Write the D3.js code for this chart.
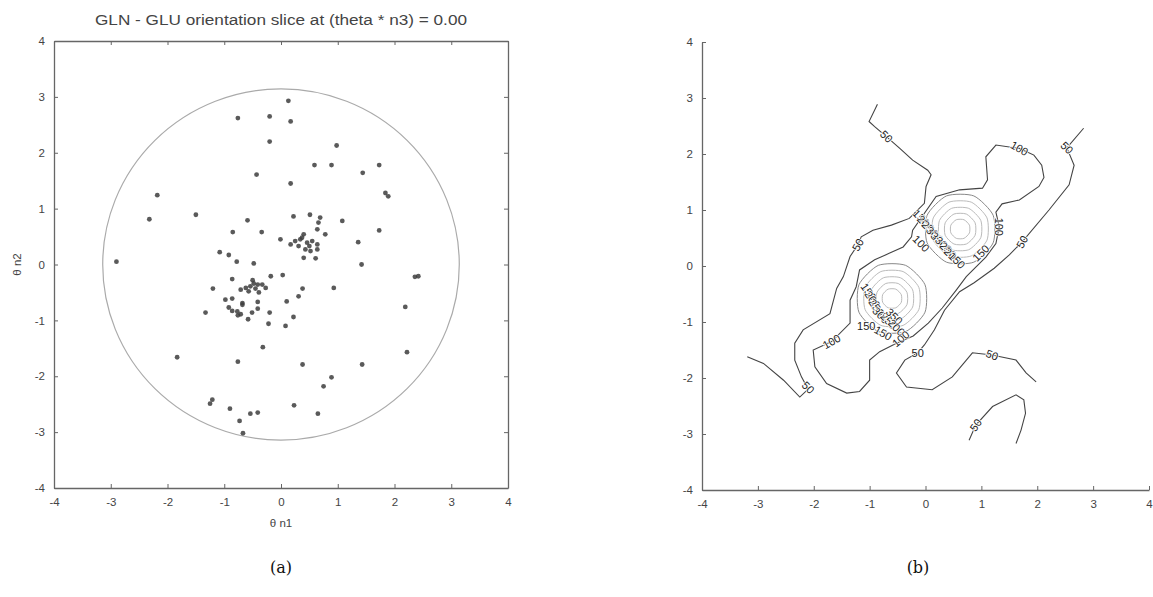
<!DOCTYPE html>
<html>
<head>
<meta charset="utf-8">
<script src="https://cdn.jsdelivr.net/npm/d3@7"></script>
<style>
  body { margin: 0; background: #fff; }
  svg { display: block; }
</style>
</head>
<body>
<div id="chart"></div>
<script>
// ---- data ----
const axisTicks = [-4, -3, -2, -1, 0, 1, 2, 3, 4];
const sliceRadius = Math.PI;

// (a) orientation samples, [theta n1, theta n2]
const orientationPoints = [
  [0.13, 2.93], [-0.76, 2.62], [-0.20, 2.65], [0.17, 2.56], [-0.20, 2.20], [0.98, 2.13],
  [0.59, 1.78], [0.89, 1.78], [1.44, 1.64], [1.73, 1.78], [-0.43, 1.61], [0.17, 1.45],
  [-2.18, 1.24], [1.84, 1.28], [1.89, 1.22],
  [-2.32, 0.81], [-1.50, 0.89], [-0.59, 0.79], [0.22, 0.86], [0.51, 0.89], [0.69, 0.84],
  [0.66, 0.75], [1.08, 0.78], [-0.85, 0.58], [-0.34, 0.58], [0.64, 0.63], [1.73, 0.61],
  [0.78, 0.54], [0.40, 0.54], [-0.01, 0.45],
  [0.25, 0.42], [0.34, 0.45], [0.46, 0.39], [0.55, 0.42], [0.64, 0.36], [0.31, 0.33],
  [0.43, 0.27], [0.52, 0.24], [0.64, 0.27], [0.17, 0.36], [0.40, 0.12], [0.61, 0.11],
  [0.37, 0.48], [0.50, 0.33],
  [1.36, 0.40], [1.42, 0.00], [-2.90, 0.05], [-1.08, 0.22], [-0.92, 0.17], [-0.78, 0.05],
  [-0.48, 0.02], [2.36, -0.22], [2.42, -0.21],
  [-0.86, -0.26], [-0.18, -0.21], [0.03, -0.19], [-1.20, -0.43],
  [-0.71, -0.45], [-0.62, -0.42], [-0.54, -0.39], [-0.48, -0.34], [-0.41, -0.36],
  [-0.33, -0.36], [-0.27, -0.42], [-0.57, -0.48], [-0.45, -0.43], [-0.50, -0.28], [-0.39, -0.50],
  [0.38, -0.43], [0.93, -0.42], [0.31, -0.57], [0.10, -0.66],
  [-0.98, -0.63], [-0.86, -0.61], [-0.68, -0.69], [-0.41, -0.67], [-0.92, -0.77], [-0.77, -0.84],
  [-0.71, -0.89], [-0.51, -0.86], [-0.41, -0.79], [-0.68, -0.72], [-0.86, -0.83], [-0.76, -0.91],
  [-1.33, -0.86], [-0.20, -0.86], [-0.58, -0.98], [-0.22, -1.06], [0.22, -0.94], [0.08, -1.10],
  [2.19, -0.76],
  [-0.32, -1.48], [-1.83, -1.66], [-0.76, -1.74], [0.38, -1.79], [1.43, -1.79], [2.22, -1.57],
  [0.89, -2.02], [0.75, -2.18],
  [-1.21, -2.42], [-1.25, -2.49], [-0.90, -2.58], [-0.54, -2.67], [-0.41, -2.65], [-0.73, -2.80],
  [-0.67, -3.02], [0.23, -2.52], [0.65, -2.67]
];

// (b) traced contour lines: level + vertices in data units
const contourLines = [
  { level: 50, points: [
    [-3.19, -1.62], [-2.90, -1.74], [-2.54, -2.04], [-2.25, -2.34], [-2.10, -2.20], [-2.22, -1.98],
    [-2.34, -1.68], [-2.34, -1.38], [-2.19, -1.14], [-1.71, -0.85], [-1.59, -0.40], [-1.47, -0.19],
    [-1.35, 0.17], [-1.21, 0.38], [-1.15, 0.52], [-0.94, 0.64], [-0.61, 0.73], [-0.29, 0.85],
    [-0.02, 1.12], [0.01, 1.42], [0.10, 1.63], [0.04, 1.71], [-0.23, 1.89], [-0.46, 2.10],
    [-0.70, 2.31], [-0.91, 2.49], [-1.01, 2.58], [-0.86, 2.89]] },
  { level: 50, points: [
    [2.83, 2.46], [2.53, 2.11], [2.66, 1.80], [2.57, 1.45], [2.21, 1.00], [1.73, 0.43],
    [1.50, 0.20], [1.23, -0.04], [0.87, -0.30], [0.61, -0.46], [0.34, -0.79], [0.16, -1.14],
    [-0.02, -1.41], [-0.14, -1.55], [-0.37, -1.68], [-0.52, -1.91], [-0.34, -2.16], [0.12, -2.21],
    [0.48, -1.98], [0.84, -1.55], [1.19, -1.59], [1.62, -1.68], [1.80, -1.91], [1.98, -2.07]] },
  { level: 50, points: [
    [0.78, -3.11], [0.90, -2.84], [1.20, -2.51], [1.62, -2.30], [1.76, -2.39], [1.79, -2.63],
    [1.71, -2.93], [1.62, -3.17]] },
  { level: 100, points: [
    [-0.52, -1.38], [-0.82, -1.53], [-1.00, -1.68], [-1.00, -2.04], [-1.18, -2.24], [-1.41, -2.27],
    [-1.77, -2.10], [-1.98, -1.80], [-2.01, -1.50], [-1.68, -1.35], [-1.35, -1.02], [-1.35, -0.61],
    [-1.24, -0.37], [-1.18, -0.07], [-0.91, 0.11], [-0.64, 0.23], [-0.40, 0.34], [-0.25, 0.52],
    [-0.23, 0.64], [0.19, 1.24], [0.61, 1.36], [1.02, 1.39], [1.11, 1.54], [1.08, 1.95],
    [1.26, 2.16], [1.68, 2.10], [1.94, 1.98], [2.08, 1.80], [2.12, 1.58], [2.03, 1.42],
    [1.68, 1.18], [1.37, 1.11], [1.26, 0.96], [1.32, 0.70], [1.26, 0.40], [1.08, 0.16],
    [0.73, -0.19], [0.55, -0.43], [0.30, -0.75], [0.05, -1.02], [-0.22, -1.25], [-0.52, -1.38]] }
];

// inner rings around the two density peaks
const peakCenters = [[0.62, 0.66], [-0.60, -0.58]];
const ringLevels = [150, 200, 250, 300, 350];
const ringRadii = [0.64, 0.52, 0.40, 0.29, 0.18];

// contour labels: text, position (data units), rotation (deg)
const contourLabels = [
  { text: "50", x: -0.70, y: 2.31, angle: 45 },
  { text: "50", x: -1.21, y: 0.38, angle: -60 },
  { text: "100", x: 1.68, y: 2.10, angle: 30 },
  { text: "50", x: 2.53, y: 2.11, angle: 45 },
  { text: "100", x: 1.32, y: 0.70, angle: 90 },
  { text: "50", x: 1.73, y: 0.43, angle: -60 },
  { text: "150", x: 0.99, y: 0.23, angle: -45 },
  { text: "100", x: -1.68, y: -1.35, angle: -30 },
  { text: "50", x: -2.10, y: -2.17, angle: 45 },
  { text: "50", x: -0.14, y: -1.55, angle: 0 },
  { text: "50", x: 1.19, y: -1.59, angle: 20 },
  { text: "50", x: 0.90, y: -2.84, angle: -55 },
  { text: "150", x: -0.08, y: 0.86, angle: 45 },
  { text: "200", x: 0.00, y: 0.76, angle: 45 },
  { text: "250", x: 0.08, y: 0.66, angle: 45 },
  { text: "300", x: 0.16, y: 0.56, angle: 45 },
  { text: "350", x: 0.24, y: 0.46, angle: 45 },
  { text: "300", x: 0.32, y: 0.38, angle: 45 },
  { text: "250", x: 0.40, y: 0.28, angle: 45 },
  { text: "200", x: 0.48, y: 0.18, angle: 45 },
  { text: "150", x: 0.56, y: 0.10, angle: 45 },
  { text: "100", x: -0.08, y: 0.40, angle: 45 },
  { text: "150", x: -1.02, y: -0.46, angle: 55 },
  { text: "200", x: -0.95, y: -0.60, angle: 55 },
  { text: "250", x: -0.88, y: -0.74, angle: 55 },
  { text: "300", x: -0.80, y: -0.88, angle: 45 },
  { text: "150", x: -1.06, y: -1.08, angle: 0 },
  { text: "250", x: -0.66, y: -0.98, angle: 45 },
  { text: "350", x: -0.56, y: -0.90, angle: 45 },
  { text: "200", x: -0.52, y: -1.10, angle: 45 },
  { text: "150", x: -0.76, y: -1.20, angle: 30 },
  { text: "100", x: -0.44, y: -1.30, angle: -40 }
];

// ---- drawing ----
const W = 1153, H = 597;
const svg = d3.select("#chart").append("svg")
  .attr("width", W).attr("height", H)
  .style("font-family", "'Liberation Sans', Arial, sans-serif");

svg.append("rect").attr("width", W).attr("height", H).attr("fill", "#fff");

const axisColor = "#666";
const textColor = "#444";
const tickText = d => String(d); // plain hyphen minus, like the figure

function styleAxis(g, showLabels) {
  g.selectAll(".domain").attr("stroke", axisColor).attr("stroke-width", 1.3);
  g.selectAll(".tick line").attr("stroke", axisColor);
  g.selectAll(".tick text")
    .attr("fill", textColor)
    .style("font-size", "11.5px")
    .style("display", showLabels ? null : "none");
}

// ===== panel (a) =====
const xa = d3.scaleLinear().domain([-4, 4]).range([54, 508]);
const ya = d3.scaleLinear().domain([-4, 4]).range([488, 41]);
const pa = svg.append("g");

pa.append("g").attr("transform", `translate(0,${ya(-4)})`)
  .call(d3.axisBottom(xa).tickValues(axisTicks).tickFormat(tickText).tickSize(-4).tickSizeOuter(0).tickPadding(10))
  .call(g => styleAxis(g, true));
pa.append("g").attr("transform", `translate(0,${ya(4)})`)
  .call(d3.axisTop(xa).tickValues(axisTicks).tickSize(-4).tickSizeOuter(0))
  .call(g => styleAxis(g, false));
pa.append("g").attr("transform", `translate(${xa(-4)},0)`)
  .call(d3.axisLeft(ya).tickValues(axisTicks).tickFormat(tickText).tickSize(-4).tickSizeOuter(0).tickPadding(9))
  .call(g => styleAxis(g, true));
pa.append("g").attr("transform", `translate(${xa(4)},0)`)
  .call(d3.axisRight(ya).tickValues(axisTicks).tickSize(-4).tickSizeOuter(0))
  .call(g => styleAxis(g, false));

// boundary circle |theta| = pi
pa.append("ellipse")
  .attr("cx", xa(0)).attr("cy", ya(0))
  .attr("rx", xa(sliceRadius) - xa(0))
  .attr("ry", ya(0) - ya(sliceRadius))
  .attr("fill", "none")
  .attr("stroke", "#aaa")
  .attr("stroke-width", 1.2);

pa.append("g").selectAll("circle")
  .data(orientationPoints)
  .join("circle")
  .attr("cx", d => xa(d[0]))
  .attr("cy", d => ya(d[1]))
  .attr("r", 2.4)
  .attr("fill", "#3d3d3d")
  .attr("opacity", 0.85);

pa.append("text")
  .attr("x", xa(0)).attr("y", 25)
  .attr("text-anchor", "middle")
  .attr("fill", textColor)
  .attr("textLength", 372)
  .attr("lengthAdjust", "spacingAndGlyphs")
  .style("font-size", "14px")
  .text("GLN - GLU orientation slice at (theta * n3) = 0.00");

pa.append("text")
  .attr("x", xa(0)).attr("y", 527)
  .attr("text-anchor", "middle")
  .attr("fill", textColor)
  .style("font-size", "11.5px")
  .text("θ n1");

pa.append("text")
  .attr("transform", `translate(21,${ya(0)}) rotate(-90)`)
  .attr("text-anchor", "middle")
  .attr("fill", textColor)
  .style("font-size", "11.5px")
  .text("θ n2");

// ===== panel (b) =====
const xb = d3.scaleLinear().domain([-4, 4]).range([702, 1149]);
const yb = d3.scaleLinear().domain([-4, 4]).range([490, 42]);
const pb = svg.append("g");

pb.append("g").attr("transform", `translate(0,${yb(-4)})`)
  .call(d3.axisBottom(xb).tickValues(axisTicks).tickFormat(tickText).tickSize(-4).tickSizeOuter(0).tickPadding(10))
  .call(g => styleAxis(g, true));
pb.append("g").attr("transform", `translate(${xb(-4)},0)`)
  .call(d3.axisLeft(yb).tickValues(axisTicks).tickFormat(tickText).tickSize(-4).tickSizeOuter(0).tickPadding(9))
  .call(g => styleAxis(g, true));

// inner rings (light)
const ringLine = d3.line().curve(d3.curveCardinalClosed.tension(0.3));
const octagon = d3.range(8).map(i => i * Math.PI / 4 + Math.PI / 8);
peakCenters.forEach(c => {
  ringLevels.forEach((lvl, i) => {
    const r = ringRadii[i];
    pb.append("path")
      .attr("d", ringLine(octagon.map(a => [xb(c[0] + r * Math.cos(a)), yb(c[1] + r * Math.sin(a))])))
      .attr("fill", "none")
      .attr("stroke", i === 0 ? "#888" : "#bbb")
      .attr("stroke-width", 1);
  });
});

const contourPath = d3.line().x(d => xb(d[0])).y(d => yb(d[1]));
pb.append("g").selectAll("path")
  .data(contourLines)
  .join("path")
  .attr("d", d => contourPath(d.points))
  .attr("fill", "none")
  .attr("stroke", "#444")
  .attr("stroke-width", 1.1);

pb.append("g").selectAll("text")
  .data(contourLabels)
  .join("text")
  .attr("transform", d => `translate(${xb(d.x)},${yb(d.y)}) rotate(${d.angle})`)
  .attr("text-anchor", "middle")
  .attr("dy", "0.35em")
  .attr("fill", "#222")
  .attr("stroke", "#fff")
  .attr("stroke-width", 1.5)
  .attr("paint-order", "stroke")
  .style("font-size", "11px")
  .text(d => d.text);

// ===== captions =====
svg.append("text")
  .attr("x", xa(0)).attr("y", 573)
  .attr("text-anchor", "middle")
  .style("font-family", "'DejaVu Serif', 'Liberation Serif', serif")
  .style("font-size", "16px")
  .attr("fill", "#111")
  .text("(a)");

svg.append("text")
  .attr("x", 918).attr("y", 573)
  .attr("text-anchor", "middle")
  .style("font-family", "'DejaVu Serif', 'Liberation Serif', serif")
  .style("font-size", "16px")
  .attr("fill", "#111")
  .text("(b)");
</script>
</body>
</html>
